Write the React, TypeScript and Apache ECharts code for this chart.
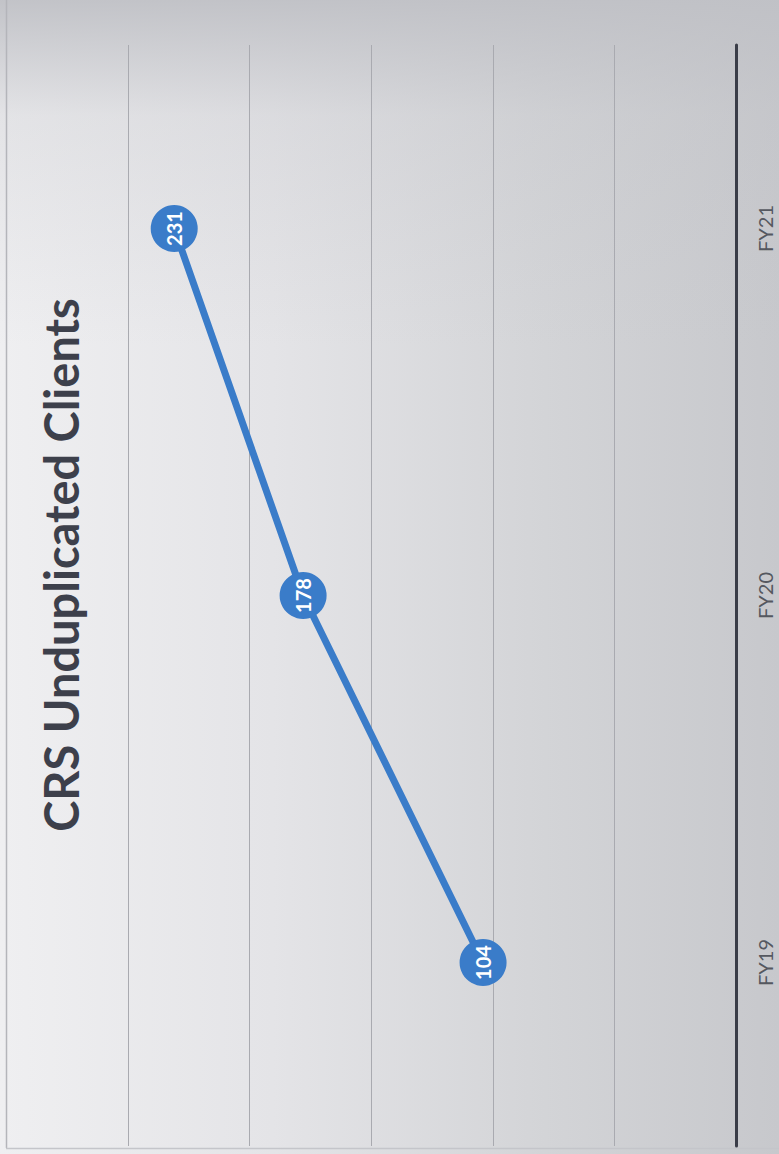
import React, { useEffect, useRef } from "react";
import * as echarts from "echarts";

const categories = ["FY19", "FY20", "FY21"];
const clients = [104, 178, 231];
const valueMin = 0;
const valueMax = 250;
const valueInterval = 50;
const titleText = "CRS Unduplicated Clients";

export default function App() {
  const ref = useRef<HTMLDivElement>(null);
  useEffect(() => {
    if (!ref.current) return;
    const chart = echarts.init(ref.current, null, { renderer: "svg" });
    chart.setOption({
      animation: false,
      backgroundColor: {
        type: "linear",
        x: 0,
        y: 0,
        x2: 1,
        y2: 0,
        colorStops: [
          { offset: 0, color: "#efeff1" },
          { offset: 0.35, color: "#e4e4e7" },
          { offset: 0.7, color: "#d3d4d7" },
          { offset: 1, color: "#c7c8cc" },
        ],
      },
      graphic: [
        {
          type: "rect",
          z: -10,
          silent: true,
          shape: { x: 0, y: 0, width: 779, height: 1154 },
          style: {
            fill: {
              type: "linear",
              x: 0,
              y: 0,
              x2: 0,
              y2: 1,
              colorStops: [
                { offset: 0, color: "rgba(192,193,198,0.95)" },
                { offset: 0.1, color: "rgba(192,193,198,0.25)" },
                { offset: 0.3, color: "rgba(192,193,198,0)" },
                { offset: 1, color: "rgba(192,193,198,0)" },
              ],
            },
          },
        },
        {
          type: "line",
          z: -5,
          silent: true,
          shape: { x1: 6.5, y1: 0, x2: 6.5, y2: 1148 },
          style: { stroke: "#b4b5ba", lineWidth: 1.5 },
        },
        {
          type: "line",
          z: -5,
          silent: true,
          shape: { x1: 6, y1: 1148.5, x2: 779, y2: 1148.5 },
          style: { stroke: "#c4c5ca", lineWidth: 1.5 },
        },
        {
          type: "text",
          x: 61,
          y: 565,
          rotation: Math.PI / 2,
          style: {
            text: titleText,
            fill: "#3d404b",
            font: "bold 47px Lato, 'Open Sans', sans-serif",
            align: "center",
            verticalAlign: "middle",
          },
        },
      ],
      grid: { left: 128, right: 43, top: 45, bottom: 8, containLabel: false },
      xAxis: {
        type: "value",
        inverse: true,
        min: valueMin,
        max: valueMax,
        interval: valueInterval,
        axisLine: { show: false },
        axisTick: { show: false },
        axisLabel: { show: false },
        splitLine: { lineStyle: { color: "#a9aab0", width: 1 } },
      },
      yAxis: {
        type: "category",
        position: "right",
        data: categories,
        axisLine: { lineStyle: { color: "#3a3d48", width: 3 } },
        axisTick: { show: false },
        axisLabel: {
          rotate: 90,
          margin: 19,
          fontSize: 20,
          color: "#555860",
          fontFamily: "Lato, 'Open Sans', sans-serif",
        },
      },
      series: [
        {
          type: "line",
          data: clients,
          symbol: "circle",
          symbolSize: 47,
          lineStyle: { color: "#3a7cc9", width: 7 },
          itemStyle: { color: "#3a7cc9" },
          label: {
            show: true,
            position: "inside",
            rotate: 90,
            color: "#ffffff",
            fontWeight: "bold",
            fontSize: 20,
            fontFamily: "Lato, 'Open Sans', sans-serif",
          },
        },
      ],
    });
    return () => chart.dispose();
  }, []);
  return (
    <div
      ref={ref}
      style={{ position: "fixed", left: 0, top: 0, width: 779, height: 1154 }}
    />
  );
}
